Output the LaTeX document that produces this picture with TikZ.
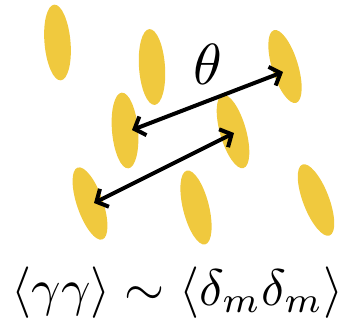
\documentclass[tikz,border=0pt]{standalone}
\usetikzlibrary{shapes.geometric,arrows.meta}
\definecolor{gold}{RGB}{240,201,62}
\begin{document}
\begin{tikzpicture}[x=1pt,y=1pt,
  grain/.style={ellipse,fill=gold,draw=none,inner sep=0pt,minimum width=26pt,minimum height=76pt},
  link/.style={line width=4pt,black,{Straight Barb[length=9pt,width=20pt]}-{Straight Barb[length=9pt,width=20pt]}}]
\useasboundingbox (0,0) rectangle (347,-325);
\node[grain,rotate=5]  (e1) at (57.5,-42.5) {};
\node[grain,rotate=4]  (e2) at (152,-67) {};
\node[grain,rotate=17] (e3) at (285,-66.5) {};
\node[grain,rotate=5]  (e4) at (125,-130.5) {};
\node[grain,rotate=16] (e5) at (233,-131.5) {};
\node[grain,rotate=19] (e6) at (90,-203.5) {};
\node[grain,rotate=14] (e7) at (196,-207.5) {};
\node[grain,rotate=21] (e8) at (316,-200) {};
\draw[link] ([shift={(7pt,0.5pt)}]e4.center) -- ([shift={(-2pt,-5.5pt)}]e3.center);
\draw[link] ([shift={(4pt,0.5pt)}]e6.center) -- ([shift={(1pt,-1.5pt)}]e5.center);
\node[scale=5.8,inner sep=0pt] (theta) at (208,-64) {$\theta$};
\node[scale=5.15,inner sep=0pt,anchor=base] (rel) at (177.5,-305) {$\langle\gamma\gamma\rangle\sim\langle\delta_m\delta_m\rangle$};
\end{tikzpicture}
\end{document}
